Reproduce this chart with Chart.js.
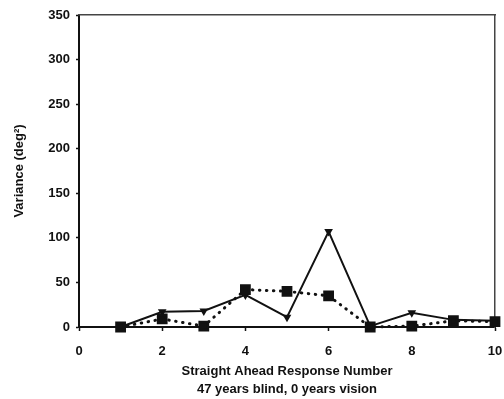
<!DOCTYPE html>
<html>
<head>
<meta charset="utf-8">
<script src="https://cdn.jsdelivr.net/npm/chart.js@4/dist/chart.umd.min.js"></script>
<style>
  html, body { margin: 0; padding: 0; background: #fff; }
  #wrap { width: 504px; height: 399px; }
</style>
</head>
<body>
<div id="wrap"><canvas id="chart"></canvas></div>
<script>
// ── Data ──────────────────────────────────────────────────
const responseNumbers = [1, 2, 3, 4, 5, 6, 7, 8, 9, 10];
const solidVariance = [0, 17, 18, 36, 11, 107, 1, 16, 8, 7];   // triangles, solid line
const dottedVariance = [0, 9, 1, 42, 40, 35, 0, 1, 7, 6];      // squares, dotted line
const xTicks = [0, 2, 4, 6, 8, 10];
const yTicks = [0, 50, 100, 150, 200, 250, 300, 350];
const xTitle = ['Straight Ahead Response Number', '47 years blind, 0 years vision'];
const yTitle = 'Variance (deg\u00B2)';

const ink = '#111';
const fontFamily = '"Liberation Sans", Arial, Helvetica, sans-serif';
const labelFont = { family: fontFamily, size: 13, weight: 'bold' };

const toPoints = (vals) => vals.map((v, i) => ({ x: responseNumbers[i], y: v }));

new Chart(document.getElementById('chart'), {
  type: 'line',
  data: {
    datasets: [
      {
        label: 'dotted',
        data: toPoints(dottedVariance),
        borderColor: ink,
        backgroundColor: ink,
        borderWidth: 3,
        borderDash: [0.5, 6.5],
        borderCapStyle: 'round',
        pointStyle: 'rect',
        pointRadius: 5.5,
        tension: 0,
        clip: false,
      },
      {
        label: 'solid',
        data: toPoints(solidVariance),
        borderColor: ink,
        backgroundColor: ink,
        borderWidth: 2,
        pointStyle: 'triangle',
        rotation: 180,
        pointRadius: 3,
        tension: 0,
        clip: false,
      },
    ],
  },
  options: {
    responsive: true,
    maintainAspectRatio: false,
    animation: false,
    layout: { padding: { top: 15, right: 0, left: 0, bottom: 0 } },
    plugins: { legend: { display: false }, tooltip: { enabled: false } },
    scales: {
      x: {
        type: 'linear',
        min: 0,
        max: 10,
        afterBuildTicks: (s) => { s.ticks = xTicks.map((v) => ({ value: v })); },
        afterFit: (s) => {
          s.height = 72;
          // only leave room for half of the "10" label on the right
          s.paddingRight = 9;
        },
        border: { color: ink, width: 2 },
        grid: { drawOnChartArea: false, color: ink, tickLength: 4, tickWidth: 1.5 },
        ticks: { color: ink, padding: 13, maxRotation: 0, font: labelFont },
        title: {
          display: true,
          text: xTitle,
          color: ink,
          padding: { top: 0, bottom: 0 },
          font: { ...labelFont, lineHeight: 1.4 },
        },
      },
      y: {
        min: 0,
        max: 350,
        afterBuildTicks: (s) => { s.ticks = yTicks.map((v) => ({ value: v })); },
        afterFit: (s) => { s.width = 79; },
        border: { color: ink, width: 2 },
        grid: { drawOnChartArea: false, color: ink, tickLength: 3, tickWidth: 1.5 },
        ticks: { color: ink, padding: 6, font: labelFont },
        title: {
          display: true,
          text: yTitle,
          color: ink,
          padding: { top: 12, bottom: 0 },
          font: labelFont,
        },
      },
      // dotted frame along the top and right of the plot
      xTop: {
        type: 'linear',
        position: 'top',
        min: 0,
        max: 10,
        afterFit: (s) => { s.height = 0; },
        border: { color: '#444', width: 1.5, dash: [1, 1.5] },
        grid: { display: false },
        ticks: { display: false },
      },
      yRight: {
        type: 'linear',
        position: 'right',
        min: 0,
        max: 350,
        afterFit: (s) => { s.width = 0; },
        border: { color: '#444', width: 1.5, dash: [2, 1] },
        grid: { display: false },
        ticks: { display: false },
      },
    },
  },
});
</script>
</body>
</html>
